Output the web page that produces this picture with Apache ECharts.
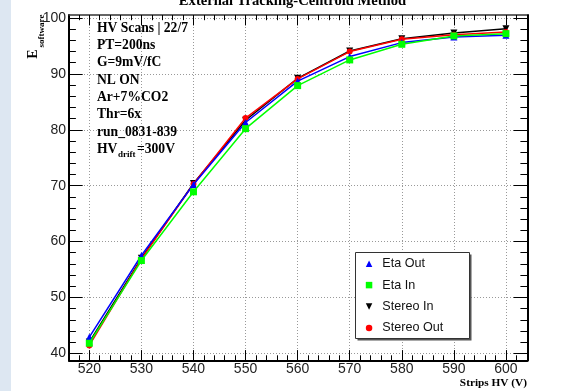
<!DOCTYPE html>
<html>
<head>
<meta charset="utf-8">
<script src="https://cdn.jsdelivr.net/npm/echarts@6.0.0/dist/echarts.min.js"></script>
<style>
html,body{margin:0;padding:0;background:#fff;}
#chart{width:571px;height:391px;}
</style>
</head>
<body>
<div id="chart"></div>
<script>
// ---- data ----
var hv = [520, 530, 540, 550, 560, 570, 580, 590, 600];
var etaOut    = [42.9, 57.5, 70.2, 81.3, 88.7, 93.1, 95.6, 96.6, 96.9];
var etaIn     = [41.8, 56.6, 68.9, 80.2, 87.9, 92.5, 95.3, 96.8, 97.2];
var stereoIn  = [42.0, 57.0, 70.4, 81.7, 89.2, 94.1, 96.3, 97.3, 98.1];
var stereoOut = [41.4, 56.9, 70.3, 82.1, 89.1, 94.0, 96.2, 97.0, 97.5];
var seriesNames = ['Eta Out', 'Eta In', 'Stereo In', 'Stereo Out'];
var xTickLabels = [520, 530, 540, 550, 560, 570, 580, 590, 600];
var yTickLabels = [40, 50, 60, 70, 80, 90, 100];
var infoLines = ['HV Scans | 22/7', 'PT=200ns', 'G=9mV/fC', 'NL ON', 'Ar+7%CO2', 'Thr=6x', 'run_0831-839'];

var X_MIN = 516.1, X_MAX = 604.1, Y_MIN = 38.71, Y_MAX = 100.54;
var xMinor = [], yMinor = [];
for (var v = 518; v <= 604; v += 2) xMinor.push(v);
for (var w = 40; w <= 100; w += 2) yMinor.push(w);

function pair(ys){ return hv.map(function(x,i){ return [x, ys[i]]; }); }

var downTri = 'path://M0,0L10,0L5,10Z';
var serif = '"Liberation Serif", "Times New Roman", serif';
var sans = '"Liberation Sans", Arial, sans-serif';

var chart = echarts.init(document.getElementById('chart'), null, {renderer:'canvas'});
var gridBox = {left:69, right:43.7, top:15, bottom:30.5, containLabel:false, outerBoundsMode:'none'};

function baseAxis(extra){
  return Object.assign({
    type:'value', min:X_MIN, max:X_MAX,
    axisLine:{show:false}, axisLabel:{show:false}, splitLine:{show:false},
    axisTick:{show:false}
  }, extra);
}

var graphics = [
  {type:'rect', shape:{x:0,y:0,width:11,height:391}, style:{fill:'#dde7f2'}, z:0},
  // legend box shadow + box
  {type:'rect', shape:{x:357.5,y:254.5,width:114,height:86}, style:{fill:'#555'}, z:5},
  {type:'rect', shape:{x:355.5,y:252.5,width:114,height:86}, style:{fill:'#fff', stroke:'#333', lineWidth:1}, z:6},
  // title
  {type:'text', x:292.5, y:0.8, style:{text:'External Tracking-Centroid Method', font:'bold 14.6px '+serif, fill:'#000', align:'center', verticalAlign:'middle'}, z:10},
  // y axis title
  {type:'text', x:33.5, y:54, rotation:Math.PI/2, style:{text:'E', font:'bold 14px '+serif, fill:'#000', align:'center', verticalAlign:'middle'}, z:10},
  {type:'text', x:41.8, y:31, rotation:Math.PI/2, style:{text:'software', font:'bold 9px '+serif, fill:'#000', align:'center', verticalAlign:'middle'}, z:10},
  // x axis title
  {type:'text', x:527, y:383, style:{text:'Strips HV (V)', font:'bold 11.3px '+serif, fill:'#000', align:'right', verticalAlign:'middle'}, z:10}
];
infoLines.forEach(function(t,i){
  graphics.push({type:'text', x:97, y:28.2 + i*17.3, style:{text:t, font:'bold 13.6px '+serif, fill:'#000', align:'left', verticalAlign:'middle'}, z:10});
});
var hvY = 28.2 + 7*17.3;
graphics.push({type:'text', x:97, y:hvY, style:{text:'HV', font:'bold 13.6px '+serif, fill:'#000', align:'left', verticalAlign:'middle'}, z:10});
graphics.push({type:'text', x:118, y:hvY+5, style:{text:'drift', font:'bold 9px '+serif, fill:'#000', align:'left', verticalAlign:'middle'}, z:10});
graphics.push({type:'text', x:137, y:hvY, style:{text:'=300V', font:'bold 13.6px '+serif, fill:'#000', align:'left', verticalAlign:'middle'}, z:10});

var gridLine = {show:true, lineStyle:{color:'#999', type:[1,2], width:1}};

var option = {
  animation:false,
  backgroundColor:'#fff',
  grid:[Object.assign({}, gridBox), Object.assign({}, gridBox)],
  xAxis:[
    baseAxis({gridIndex:0, position:'bottom',
      axisLine:{show:true, onZero:false, lineStyle:{color:'#000', width:2}},
      axisTick:{show:true, inside:true, length:10.4, customValues:xTickLabels, lineStyle:{color:'#000', width:1}},
      axisLabel:{show:true, customValues:xTickLabels, margin:2, fontSize:14, color:'#222', fontFamily:sans},
      splitLine:gridLine}),
    baseAxis({gridIndex:0, position:'top',
      axisLine:{show:true, onZero:false, lineStyle:{color:'#333', width:1.5}},
      axisTick:{show:true, inside:true, length:10.4, customValues:xTickLabels, lineStyle:{color:'#000', width:1}}}),
    baseAxis({gridIndex:1, position:'bottom',
      axisTick:{show:true, inside:true, length:5.2, customValues:xMinor, lineStyle:{color:'#000', width:1}}}),
    baseAxis({gridIndex:1, position:'top',
      axisTick:{show:true, inside:true, length:5.2, customValues:xMinor, lineStyle:{color:'#000', width:1}}})
  ],
  yAxis:[
    baseAxis({gridIndex:0, position:'left', min:Y_MIN, max:Y_MAX,
      axisLine:{show:true, onZero:false, lineStyle:{color:'#000', width:2}},
      axisTick:{show:true, inside:true, length:13.7, customValues:yTickLabels, lineStyle:{color:'#000', width:1}},
      axisLabel:{show:true, customValues:yTickLabels, margin:3, fontSize:14, color:'#222', fontFamily:sans},
      splitLine:gridLine}),
    baseAxis({gridIndex:0, position:'right', min:Y_MIN, max:Y_MAX,
      axisLine:{show:true, onZero:false, lineStyle:{color:'#000', width:2}},
      axisTick:{show:true, inside:true, length:13.7, customValues:yTickLabels, lineStyle:{color:'#000', width:1}}}),
    baseAxis({gridIndex:1, position:'left', min:Y_MIN, max:Y_MAX,
      axisTick:{show:true, inside:true, length:6.9, customValues:yMinor, lineStyle:{color:'#000', width:1}}}),
    baseAxis({gridIndex:1, position:'right', min:Y_MIN, max:Y_MAX,
      axisTick:{show:true, inside:true, length:6.9, customValues:yMinor, lineStyle:{color:'#000', width:1}}})
  ],
  legend:{
    orient:'vertical', left:365.8, top:256.7, padding:0, itemGap:7.4,
    itemWidth:6.5, itemHeight:6.5, z:20,
    textStyle:{fontFamily:sans, fontSize:12.6, color:'#111', lineHeight:14, padding:[0,0,0,5]},
    data:[
      {name:seriesNames[0], icon:'triangle'},
      {name:seriesNames[1], icon:'rect'},
      {name:seriesNames[2], icon:downTri},
      {name:seriesNames[3], icon:'circle'}
    ]
  },
  graphic:graphics,
  series:[
    {name:seriesNames[2], type:'line', xAxisIndex:0, yAxisIndex:0, data:pair(stereoIn), color:'#000',
      symbol:downTri, symbolSize:7, lineStyle:{width:1.5, color:'#000'}, itemStyle:{color:'#000'}, z:3},
    {name:seriesNames[3], type:'line', xAxisIndex:0, yAxisIndex:0, data:pair(stereoOut), color:'#ff0000',
      symbol:'circle', symbolSize:6, lineStyle:{width:1.5, color:'#ff0000'}, itemStyle:{color:'#ff0000'}, z:4},
    {name:seriesNames[0], type:'line', xAxisIndex:0, yAxisIndex:0, data:pair(etaOut), color:'#0000ff',
      symbol:'triangle', symbolSize:7, lineStyle:{width:1.5, color:'#0000ff'}, itemStyle:{color:'#0000ff'}, z:5},
    {name:seriesNames[1], type:'line', xAxisIndex:0, yAxisIndex:0, data:pair(etaIn), color:'#00ff00',
      symbol:'rect', symbolSize:7, lineStyle:{width:1.5, color:'#00ff00'}, itemStyle:{color:'#00ff00'}, z:6}
  ]
};
chart.setOption(option);
</script>
</body>
</html>
